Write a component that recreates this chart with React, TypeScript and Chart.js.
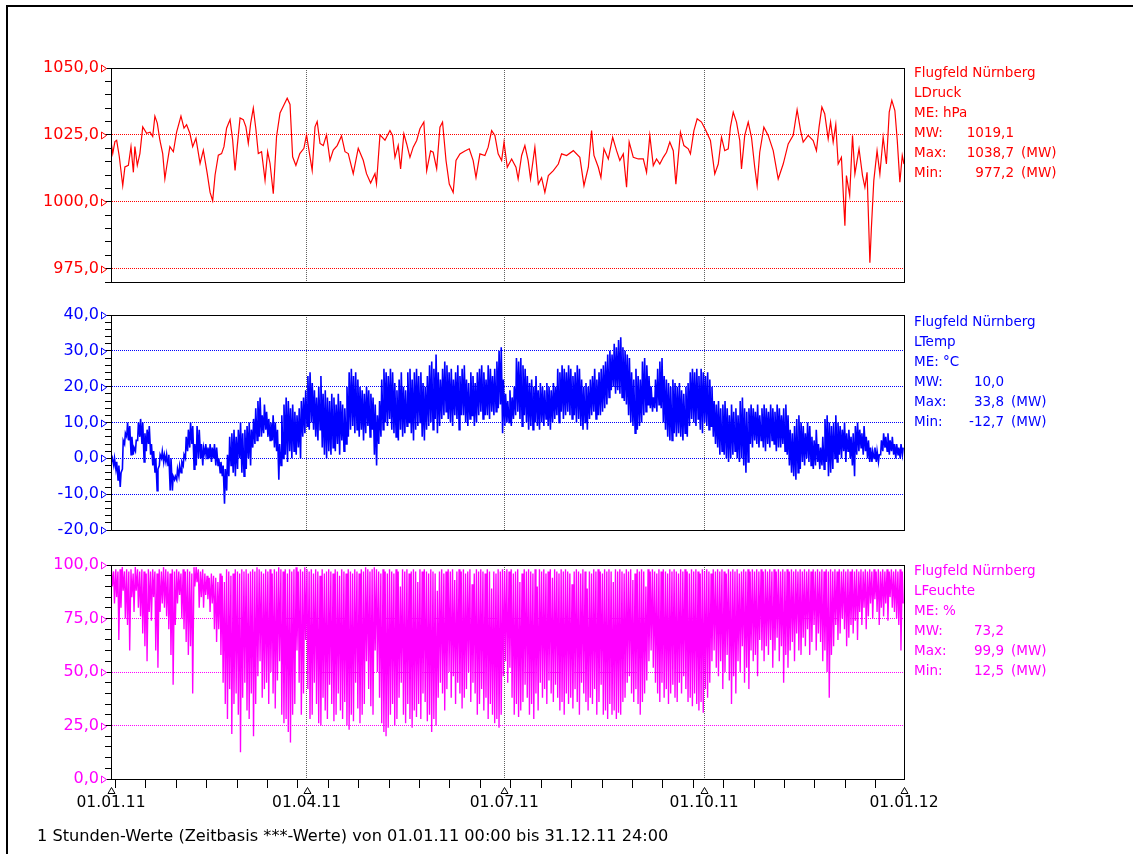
import React, { useEffect, useRef } from "react";
import { Chart, registerables } from "chart.js";

Chart.register(...registerables);
Chart.defaults.font.family = '"DejaVu Sans", sans-serif';

const PAGE_W = 1133;
const PAGE_H = 854;
const PLOT_LEFT = 111;
const PLOT_RIGHT = 904;

// ---- time axis (day of year 2011) ----
const quarterDays = [0, 90, 181, 273, 365];
const quarterLabels = ["01.01.11", "01.04.11", "01.07.11", "01.10.11", "01.01.12"];
const biweeklyDays = [2, 16, 30, 44, 58, 72, 86, 100, 114, 128, 142, 156, 170, 184, 198, 212, 226, 240, 254, 268, 282, 296, 310, 324, 338, 352];

// ---- air pressure (hPa) ----
const pressureDay = [
  0, 0.8, 1.8, 2.6, 3.8, 5.4, 6.4, 8, 9.2, 10.3, 11, 12.1, 13.3, 14.6, 16.4, 18, 19.2, 20.2, 21.3, 22.5,
  23.8, 24.8, 25.6, 27.1, 28.7, 30.2, 32.2, 33.6, 34.8, 36.3, 37.6, 39.1, 41, 42.5, 44.3, 45.6, 46.8, 47.9, 49.4, 50.9,
  52, 53.2, 54.8, 56, 57.1, 58.1, 59.4, 60.9, 62.1, 63.2, 64.3, 65.5, 66.7, 67.8, 69.3, 70.9, 72.1, 73.2, 74.7, 76.2,
  77.8, 79.3, 81.1, 82.4, 83.6, 85.1, 86.9, 88.8, 90, 91.6, 92.6, 93.9, 94.9, 96.2, 97.7, 99.2, 100.8, 102.3, 104.1, 106.1,
  107.7, 109.2, 111.5, 113.8, 116.1, 117.6, 119.5, 121.5, 122.2, 123.8, 126.1, 128.4, 129.6, 130.7, 132.2, 133.3, 134.8, 136.1, 137.6, 139.1,
  140.7, 142.2, 144, 145.3, 147.1, 148.3, 149.9, 151.4, 152.6, 154.2, 155.7, 157.5, 158.8, 160.6, 162.9, 164.9, 166.7, 168, 169.8, 172.1,
  173.6, 175.2, 176.7, 178.2, 179.8, 180.9, 182.4, 184.4, 186.4, 187.4, 189, 190.5, 192, 193.1, 195.1, 196.7, 198.2, 199.7, 201.3, 203.6,
  205.9, 207.4, 209.7, 212.8, 215.8, 217.7, 219.7, 221.2, 222.3, 224.3, 225.5, 226.9, 228.9, 230.9, 232.7, 234.2, 235.8, 237.3, 238.5, 240.4,
  242.7, 245, 246.5, 248, 249.6, 251.1, 252.6, 254.2, 255.7, 257.2, 258.8, 260, 262.1, 263.7, 265.7, 266.7, 268.3, 269.8, 271.8, 273.8,
  275.9, 277.9, 279.5, 281, 282.5, 284.1, 285.1, 286.4, 287.9, 289.4, 290.2, 291.7, 293.3, 294.8, 296.3, 297.4, 298.6, 300.5, 302.5, 304.8,
  307.1, 309.4, 311.7, 314, 315.8, 317.4, 318.6, 320.9, 323.2, 324.7, 325.9, 327.2, 328.5, 330.1, 331.2, 332.4, 333.6, 334.7, 336.2, 337.8,
  338.5, 340, 341.3, 342.4, 344.3, 345.9, 347, 348, 349.3, 350, 351.1, 352.6, 353.9, 355.4, 356.9, 358.2, 359.4, 360.8, 361.9, 363.1,
  364.2, 365,
];
const pressureHpa = [
  1022.5, 1018, 1022.5, 1023, 1017, 1006, 1013, 1013.6, 1020.6, 1011, 1020.6, 1013.6, 1018, 1028, 1025.6, 1026, 1024.4, 1032, 1029.4, 1023,
  1018, 1008.6, 1013, 1020.6, 1018.7, 1026, 1032, 1027.5, 1028.8, 1025.6, 1020.6, 1023.7, 1014.3, 1019.3, 1010.5, 1003.5, 1000.4, 1010, 1017.4, 1018,
  1020.6, 1027.5, 1030.7, 1023, 1011.7, 1020.6, 1031.3, 1030.7, 1028, 1021.8, 1029.4, 1035, 1027, 1018, 1018.7, 1008, 1018.7, 1014.3, 1003, 1024.4,
  1033.2, 1035.7, 1038.7, 1036.4, 1016.8, 1013.6, 1018, 1020, 1025, 1016.8, 1011.7, 1028, 1030, 1021.8, 1021, 1025, 1015.5, 1019.3, 1021, 1024.6,
  1018.7, 1018, 1010.5, 1020, 1015.5, 1010.5, 1007, 1010.5, 1006.7, 1025, 1023, 1026.6, 1024.8, 1016.6, 1021, 1012.3, 1025.4, 1021.6, 1016.6, 1020.4,
  1022.9, 1027.3, 1029.8, 1011.6, 1019, 1018.5, 1012.3, 1027.9, 1029.8, 1015.4, 1006.6, 1003.5, 1015.4, 1017.9, 1019, 1019.8, 1015.4, 1009, 1017.9, 1017.3,
  1020.4, 1026.6, 1024.8, 1017.9, 1015.4, 1022.3, 1012.9, 1016, 1012.9, 1008.5, 1017.3, 1021, 1015.4, 1008.5, 1020.4, 1006.6, 1009, 1003.5, 1009.8, 1011.6,
  1014.1, 1017.9, 1017.3, 1019.1, 1016.6, 1006, 1012.9, 1026.6, 1017.3, 1012.9, 1009, 1019.8, 1016, 1024.1, 1019.1, 1015.4, 1017.9, 1005.4, 1022.3, 1016.6,
  1016, 1016, 1011, 1024.8, 1013.5, 1016, 1014.1, 1016.6, 1018.5, 1022.3, 1019.1, 1006.6, 1026, 1021, 1019.8, 1017.9, 1026.6, 1031, 1029.8, 1026.6,
  1022.9, 1010.4, 1014.1, 1024.1, 1019.1, 1019.8, 1027.9, 1033.5, 1029.8, 1022.9, 1012.3, 1024.8, 1029.8, 1024.1, 1012.9, 1006, 1018.5, 1027.9, 1024.8, 1019.1,
  1008.5, 1014.1, 1021.6, 1024.8, 1034.4, 1026.6, 1022.3, 1024.8, 1022.9, 1019.1, 1027.9, 1035.4, 1032.9, 1023.5, 1029.8, 1022.3, 1028.9, 1014.1, 1016.6, 991,
  1009.8, 1002.3, 1024.8, 1010.4, 1019.8, 1009.8, 1005.4, 1011, 977.2, 990.4, 1007.9, 1019.1, 1010.4, 1024.1, 1014.1, 1033.5, 1037.9, 1034.1, 1022.9, 1007.3,
  1017.3, 1014.1,
];

// ---- air temperature (°C): daily maximum / minimum, day 0..364 ----
const tempHigh = [
  0, 0, -1, -2, -4, 5, 7, 10, 9, 6,
  3, 5, 10, 11, 10, 7, 8, 9, 4, 2,
  0, -3, 1, 2, 1, 1, 1, 0, -5, -5,
  -3, -2, -1, 1, 6, 8, 10, 9, 4, 9,
  8, 4, 3, 4, 3, 4, 3, 4, 3, 0,
  -1, -2, -3, 1, 6, 7, 8, 6, 8, 10,
  7, 8, 9, 10, 8, 11, 14, 16, 17, 12,
  15, 13, 11, 10, 12, 10, 8, 4, 12, 15,
  17, 16, 14, 15, 13, 12, 14, 16, 17, 19,
  23, 24, 21, 19, 17, 20, 23, 18, 19, 17,
  16, 18, 17, 15, 18, 16, 15, 14, 20, 24,
  25, 23, 24, 22, 20, 19, 18, 20, 19, 18,
  17, 15, 12, 16, 22, 25, 24, 23, 25, 24,
  21, 19, 22, 24, 20, 19, 24, 25, 22, 24,
  25, 23, 24, 21, 20, 23, 26, 27, 25, 29,
  24, 22, 25, 27, 26, 24, 25, 22, 24, 26,
  23, 25, 26, 22, 21, 24, 23, 21, 24, 25,
  26, 24, 22, 26, 25, 23, 25, 27, 30, 31,
  22, 18, 16, 19, 17, 20, 28, 27, 28, 26,
  25, 23, 21, 22, 20, 23, 19, 21, 20, 19,
  21, 20, 19, 21, 20, 25, 24, 26, 25, 24,
  26, 25, 23, 24, 26, 25, 22, 20, 21, 20,
  22, 23, 25, 22, 24, 25, 26, 27, 29, 30,
  29, 32, 31, 33, 33.8, 31, 30, 29, 28, 24,
  22, 25, 23, 22, 27, 28, 26, 23, 20, 17,
  22, 25, 27, 28, 23, 22, 21, 20, 22, 21,
  20, 21, 19, 18, 20, 21, 24, 25, 24, 25,
  23, 25, 24, 23, 24, 22, 20, 16, 15, 16,
  14, 15, 16, 14, 12, 15, 13, 14, 12, 16,
  17, 14, 13, 14, 15, 14, 13, 15, 12, 14,
  15, 14, 13, 15, 14, 13, 15, 14, 12, 14,
  15, 12, 8, 7, 9, 11, 12, 10, 9, 7,
  10, 9, 6, 5, 8, 4, 3, 6, 11, 12,
  10, 9, 10, 12, 10, 9, 8, 10, 7, 8,
  6, 7, 9, 10, 8, 7, 9, 6, 5, 3,
  2, 3, 2, 1, 5, 7, 6, 7, 5, 6,
  4, 4, 3, 4, 3,
];
const tempLow = [
  -1, -2, -3, -6, -8, -3, 4, 6, 5, 1,
  1, 2, 5, 6, 4, -1, 2, 4, 1, -2,
  -4, -9, -2, 0, -1, -1, -2, -9, -9, -6,
  -6, -5, -4, -2, 0, 2, 3, 4, -3, -2,
  0, 0, -2, 1, 0, 0, -1, 0, -2, -2,
  -4, -5, -12.7, -9, -5, -2, -4, -5, -3, 0,
  -4, -5, -3, 0, -2, 3, 4, 5, 6, 6,
  7, 8, 6, 5, 5, 3, 2, -6, -2, 0,
  1, -1, 2, 0, 2, 1, 3, 0, 6, 7,
  9, 8, 10, 8, 6, 5, 8, 3, 1, 0,
  2, 1, 3, 2, 4, 1, 5, 2, 4, 6,
  8, 9, 7, 8, 6, 8, 5, 7, 9, 6,
  8, 1, -2, 4, 6, 8, 10, 9, 11, 8,
  7, 6, 5, 8, 6, 7, 9, 10, 7, 5,
  8, 9, 10, 6, 5, 8, 9, 10, 8, 11,
  7, 9, 11, 12, 13, 11, 10, 9, 12, 11,
  8, 12, 12, 10, 9, 11, 12, 9, 10, 12,
  13, 11, 12, 12, 11, 13, 12, 13, 14, 15,
  7, 9, 10, 10, 9, 11, 12, 13, 11, 9,
  12, 10, 8, 9, 8, 10, 9, 8, 10, 9,
  11, 9, 8, 10, 11, 12, 10, 13, 11, 12,
  13, 12, 11, 12, 10, 11, 9, 8, 10, 8,
  11, 12, 13, 11, 12, 12, 13, 14, 15, 17,
  19, 20, 18, 19, 18, 17, 16, 15, 12, 10,
  9, 7, 8, 9, 10, 12, 13, 15, 14, 13,
  14, 13, 15, 14, 10, 8, 6, 5, 5, 7,
  6, 7, 6, 5, 7, 6, 9, 11, 10, 9,
  11, 8, 7, 10, 9, 8, 9, 6, 4, 3,
  1, 2, 1, 0, -1, 0, 1, 2, 0, -1,
  0, -2, -4, -1, 4, 3, 5, 4, 3, 5,
  3, 2, 4, 3, 5, 4, 2, 3, 3, 4,
  2, 1, -2, -4, -5, -6, -4, -3, -1, -2,
  0, -1, -2, -3, -2, -1, -3, -2, -3, -1,
  -5, -4, -3, 0, -1, 1, 0, 2, -1, 2,
  0, -2, -5, 1, 2, 3, 1, 2, 0, -1,
  -1, 0, -1, -1, 1, 2, 3, 2, 1, 2,
  1, 0, 1, 0, 1,
];

// ---- relative humidity (%): daily maximum / minimum, day 0..364 ----
const humHigh = [
  98, 97, 98, 97, 98, 99, 97, 98, 97, 98,
  96, 99, 98, 97, 98, 97, 96, 98, 97, 98,
  97, 96, 98, 97, 99, 98, 97, 96, 98, 97,
  98, 97, 96, 98, 97, 98, 97, 96, 99, 99,
  98, 97, 98, 96, 95, 94, 96, 95, 94, 92,
  96, 95, 92, 98, 97, 95, 96, 98, 97, 96,
  98, 97, 98, 96, 97, 98, 97, 99, 98, 97,
  96, 98, 97, 98, 96, 98, 97, 99, 98, 97,
  98, 96, 98, 97, 98, 99, 97, 98, 97, 99,
  98, 97, 98, 96, 98, 97, 95, 98, 96, 97,
  98, 97, 96, 98, 97, 95, 98, 97, 96, 98,
  97, 96, 98, 97, 96, 98, 97, 99, 98, 97,
  98, 99, 98, 97, 96, 98, 97, 96, 98, 97,
  96, 98, 97, 90, 98, 97, 98, 96, 97, 98,
  97, 92, 98, 97, 98, 97, 96, 98, 97, 96,
  88, 97, 98, 96, 97, 98, 97, 98, 93, 97,
  98, 97, 98, 96, 97, 98, 91, 96, 98, 97,
  98, 97, 96, 98, 97, 89, 97, 96, 98, 97,
  98, 97, 98, 97, 98, 96, 97, 98, 92, 96,
  98, 97, 98, 97, 96, 98, 90, 98, 97, 98,
  96, 97, 98, 94, 98, 97, 96, 98, 97, 98,
  97, 96, 91, 97, 98, 97, 96, 98, 97, 89,
  97, 96, 98, 97, 98, 97, 96, 98, 97, 98,
  97, 92, 98, 97, 98, 97, 96, 98, 97, 98,
  93, 96, 98, 97, 98, 97, 90, 98, 97, 98,
  97, 96, 98, 97, 98, 97, 96, 98, 97, 98,
  97, 96, 98, 97, 98, 97, 96, 98, 97, 98,
  97, 96, 98, 97, 98, 97, 96, 98, 97, 98,
  97, 98, 97, 96, 98, 97, 98, 97, 98, 96,
  97, 98, 97, 98, 97, 98, 97, 98, 97, 98,
  97, 98, 97, 98, 97, 98, 97, 98, 97, 98,
  97, 98, 97, 98, 97, 98, 97, 98, 97, 98,
  97, 98, 97, 98, 97, 98, 97, 98, 97, 98,
  97, 98, 97, 98, 97, 98, 97, 98, 97, 98,
  97, 98, 97, 98, 97, 98, 97, 98, 97, 98,
  97, 98, 97, 98, 97, 98, 97, 98, 97, 98,
  97, 98, 97, 98, 97,
];
const humLow = [
  90, 82, 85, 65, 80, 88, 75, 72, 60, 85,
  78, 88, 80, 76, 68, 62, 55, 78, 74, 85,
  60, 52, 78, 82, 80, 76, 70, 58, 44, 72,
  82, 86, 75, 70, 64, 58, 62, 40, 90, 92,
  80, 85, 80, 86, 84, 78, 82, 70, 64, 70,
  58, 45, 35, 28, 42, 21, 35, 40, 30, 12.5,
  38, 45, 32, 28, 40, 20, 35, 48, 55, 38,
  42, 45, 35, 50, 40, 33, 46, 55, 30, 26,
  28, 22, 17, 30, 35, 60, 45, 30, 40, 65,
  42, 28, 30, 45, 35, 26, 25, 38, 32, 28,
  44, 35, 27, 30, 40, 32, 28, 36, 25, 23,
  30, 27, 45, 33, 26, 30, 35, 55, 42, 34,
  30, 60, 50, 38, 26, 22, 20, 24, 30, 35,
  25, 28, 38, 45, 30, 26, 35, 28, 24, 32,
  29, 35, 28, 40, 36, 27, 30, 22, 28, 25,
  38, 45, 40, 32, 42, 50, 38, 48, 35, 45,
  40, 33, 38, 42, 50, 36, 45, 40, 30, 35,
  42, 32, 38, 28, 35, 30, 26, 28, 24, 30,
  48, 55, 45, 52, 38, 30, 35, 29, 32, 36,
  44, 38, 30, 35, 28, 40, 32, 45, 38, 42,
  35, 46, 40, 36, 44, 38, 32, 36, 30, 40,
  35, 38, 33, 42, 36, 30, 45, 40, 36, 32,
  38, 35, 42, 30, 36, 44, 30, 32, 28, 35,
  30, 32, 28, 31, 30, 36, 38, 45, 48, 40,
  36, 42, 35, 30, 36, 40, 46, 55, 60, 52,
  45, 40, 36, 45, 38, 42, 35, 40, 44, 38,
  36, 45, 40, 48, 42, 36, 38, 34, 40, 35,
  32, 36, 31, 42, 38, 45, 55, 60, 52, 48,
  55, 42, 50, 58, 46, 35, 48, 40, 55, 50,
  62, 45, 52, 42, 60, 55, 58, 48, 65, 60,
  55, 62, 58, 65, 52, 60, 66, 55, 62, 45,
  58, 52, 60, 64, 55, 68, 60, 58, 66, 62,
  70, 58, 64, 72, 60, 68, 64, 55, 60, 50,
  38, 58, 62, 72, 65, 68, 75, 70, 62, 66,
  72, 68, 74, 65, 78, 72, 80, 70, 76, 82,
  75, 84, 78, 72, 80, 76, 82, 74, 85, 80,
  78, 75, 72, 60, 82,
];

// ---- legend texts ----
const legendPressure = ["Flugfeld Nürnberg", "LDruck", "ME: hPa"];
const statsPressure = ["1019,1", "1038,7", "977,2"];
const legendTemp = ["Flugfeld Nürnberg", "LTemp", "ME: °C"];
const statsTemp = ["10,0", "33,8", "-12,7"];
const legendHum = ["Flugfeld Nürnberg", "LFeuchte", "ME: %"];
const statsHum = ["73,2", "99,9", "12,5"];
const footerText = "1 Stunden-Werte (Zeitbasis ***-Werte) von 01.01.11 00:00 bis 31.12.11 24:00";

const pressurePoints = pressureDay.map((d, i) => ({ x: d, y: pressureHpa[i] }));
const tempPoints = tempLow.flatMap((lo, d) => [
  { x: d + 0.25, y: lo },
  { x: d + 0.62, y: tempHigh[d] },
]);
const humPoints = humHigh.flatMap((hi, d) => [
  { x: d + 0.2, y: hi },
  { x: d + 0.6, y: humLow[d] },
]);

type Panel = {
  top: number;
  bottom: number;
  min: number;
  max: number;
  step: number;
  major: number;
  color: string;
  grid: string;
  lineWidth: number;
  points: { x: number; y: number }[];
  bottomAxis: boolean;
};

const panels: Panel[] = [
  { top: 68, bottom: 282, min: 970, max: 1050, step: 5, major: 25, color: "#ff0000", grid: "#ff0000", lineWidth: 1.2, points: pressurePoints, bottomAxis: false },
  { top: 315, bottom: 530, min: -20, max: 40, step: 2, major: 10, color: "#0000ff", grid: "#0000ff", lineWidth: 1.6, points: tempPoints, bottomAxis: false },
  { top: 565, bottom: 779, min: 0, max: 100, step: 5, major: 25, color: "#ff00ff", grid: "#ff00ff", lineWidth: 1.35, points: humPoints, bottomAxis: true },
];

const fmt = (v: number) => v.toFixed(1).replace(".", ",");
const isMajorOf = (major: number) => (v: number) => Math.abs(Math.round(v / major) * major - v) < 1e-6;

function buildChart(canvas: HTMLCanvasElement, p: Panel) {
  const isMajor = isMajorOf(p.major);
  const yTicks: number[] = [];
  for (let v = p.min; v <= p.max + 1e-9; v += p.step) yTicks.push(Math.round(v * 10) / 10);
  const xTicks = p.bottomAxis ? [...quarterDays, ...biweeklyDays].sort((a, b) => a - b) : quarterDays.slice();
  const xHeight = p.bottomAxis ? PAGE_H - p.bottom : 0;

  const boxPlugin = {
    id: "panelBox",
    afterDraw(chart: any) {
      const { ctx, chartArea: a } = chart;
      const ys = chart.scales.y;
      const xs = chart.scales.x;
      ctx.save();
      ctx.setLineDash([]);
      ctx.lineWidth = 1;
      ctx.strokeStyle = "#000";
      ctx.strokeRect(Math.round(a.left) + 0.5, Math.round(a.top) + 0.5, Math.round(a.right - a.left), Math.round(a.bottom - a.top));
      // value markers on the y axis
      ctx.strokeStyle = p.color;
      ctx.fillStyle = "#fff";
      for (const v of yTicks) {
        if (!isMajor(v)) continue;
        const y = Math.round(ys.getPixelForValue(v)) + 0.5;
        const x0 = Math.round(a.left) - 10 + 0.5;
        const x1 = Math.round(a.left) - 4.5;
        ctx.beginPath();
        ctx.moveTo(x0, y - 3.5);
        ctx.lineTo(x1, y);
        ctx.lineTo(x0, y + 3.5);
        ctx.closePath();
        ctx.fill();
        ctx.stroke();
      }
      if (p.bottomAxis) {
        ctx.strokeStyle = "#000";
        const b = Math.round(a.bottom);
        for (const d of quarterDays) {
          const x = Math.round(xs.getPixelForValue(d)) + 0.5;
          ctx.beginPath();
          ctx.moveTo(x, b + 8.5);
          ctx.lineTo(x + 3.5, b + 14.5);
          ctx.lineTo(x - 3.5, b + 14.5);
          ctx.closePath();
          ctx.stroke();
        }
      }
      ctx.restore();
    },
  };

  return new Chart(canvas, {
    type: "line",
    data: {
      datasets: [
        {
          data: p.points,
          borderColor: p.color,
          borderWidth: p.lineWidth,
          pointRadius: 0,
          tension: 0,
          fill: false,
        },
      ],
    },
    options: {
      responsive: false,
      animation: false,
      events: [],
      layout: {
        padding: { left: 0, top: p.top, right: PAGE_W - PLOT_RIGHT, bottom: p.bottomAxis ? 0 : PAGE_H - p.bottom },
      },
      plugins: { legend: { display: false }, tooltip: { enabled: false }, title: { display: false } },
      scales: {
        x: {
          type: "linear",
          min: 0,
          max: 365,
          afterBuildTicks: (s: any) => {
            s.ticks = xTicks.map((v) => ({ value: v }));
          },
          afterFit: (s: any) => {
            s.height = xHeight;
          },
          grid: {
            color: (c: any) => {
              const v = c.tick ? c.tick.value : -1;
              return v === 90 || v === 181 || v === 273 ? "#606060" : "rgba(0,0,0,0)";
            },
            lineWidth: 1,
            drawTicks: p.bottomAxis,
            tickLength: 9,
            tickColor: (c: any) => (c.tick && quarterDays.includes(c.tick.value) ? "rgba(0,0,0,0)" : "#000"),
          },
          border: { display: true, color: "#000", width: 1, dash: [1, 1] },
          ticks: {
            display: p.bottomAxis,
            autoSkip: false,
            maxRotation: 0,
            minRotation: 0,
            padding: 6,
            color: "#000",
            font: { size: 15.5 },
            callback: (v: any) => {
              const i = quarterDays.indexOf(Number(v));
              return i >= 0 ? quarterLabels[i] : "";
            },
          },
        },
        y: {
          type: "linear",
          min: p.min,
          max: p.max,
          afterBuildTicks: (s: any) => {
            s.ticks = yTicks.map((v) => ({ value: v }));
          },
          afterFit: (s: any) => {
            s.width = PLOT_LEFT;
          },
          grid: {
            color: (c: any) => (c.tick && isMajor(c.tick.value) ? p.grid : "rgba(0,0,0,0)"),
            lineWidth: 1,
            drawTicks: true,
            tickLength: 6,
            tickColor: "#000",
          },
          border: { display: true, color: "#000", width: 1, dash: [1, 1] },
          ticks: {
            autoSkip: false,
            padding: 6,
            color: p.color,
            font: { size: 16 },
            callback: (v: any) => (isMajor(Number(v)) ? fmt(Number(v)) : ""),
          },
        },
      },
    },
    plugins: [boxPlugin],
  } as any);
}

function Legend({ top, color, lines, stats, valueRight }: { top: number; color: string; lines: string[]; stats: string[]; valueRight: number }) {
  const base: React.CSSProperties = {
    position: "absolute",
    fontSize: 13.5,
    lineHeight: "20px",
    color,
    whiteSpace: "pre",
  };
  const labels = ["MW:", "Max:", "Min:"];
  return (
    <>
      {lines.map((t, i) => (
        <div key={"l" + i} style={{ ...base, left: 914, top: top - 10 + i * 20 }}>
          {t}
        </div>
      ))}
      {labels.map((lab, i) => (
        <React.Fragment key={"s" + i}>
          <div style={{ ...base, left: 914, top: top - 10 + (i + 3) * 20 }}>{lab}</div>
          <div style={{ ...base, left: 940, width: valueRight - 940, textAlign: "right", top: top - 10 + (i + 3) * 20 }}>
            {stats[i]}
          </div>
          {i > 0 && <div style={{ ...base, left: valueRight + 7, top: top - 10 + (i + 3) * 20 }}>(MW)</div>}
        </React.Fragment>
      ))}
    </>
  );
}

export default function App() {
  const c1 = useRef<HTMLCanvasElement>(null);
  const c2 = useRef<HTMLCanvasElement>(null);
  const c3 = useRef<HTMLCanvasElement>(null);

  useEffect(() => {
    const refs = [c1, c2, c3];
    const charts = refs.map((r, i) => buildChart(r.current as HTMLCanvasElement, panels[i]));
    return () => charts.forEach((c) => c.destroy());
  }, []);

  const canvasStyle: React.CSSProperties = { position: "absolute", left: 0, top: 0, width: PAGE_W, height: PAGE_H };

  return (
    <div
      style={{
        position: "absolute",
        left: 0,
        top: 0,
        width: PAGE_W,
        height: PAGE_H,
        overflow: "hidden",
        background: "#fff",
        fontFamily: '"DejaVu Sans", sans-serif',
      }}
    >
      <div
        style={{
          position: "absolute",
          left: 6,
          top: 5,
          width: PAGE_W,
          height: PAGE_H,
          borderLeft: "2px solid #000",
          borderTop: "2px solid #000",
        }}
      />
      <canvas ref={c1} width={PAGE_W} height={PAGE_H} style={canvasStyle} />
      <canvas ref={c2} width={PAGE_W} height={PAGE_H} style={canvasStyle} />
      <canvas ref={c3} width={PAGE_W} height={PAGE_H} style={canvasStyle} />
      <Legend top={72} color="#ff0000" lines={legendPressure} stats={statsPressure} valueRight={1014} />
      <Legend top={321} color="#0000ff" lines={legendTemp} stats={statsTemp} valueRight={1004} />
      <Legend top={570} color="#ff00ff" lines={legendHum} stats={statsHum} valueRight={1004} />
      <div style={{ position: "absolute", left: 37, top: 827, fontSize: 16.2, lineHeight: "18px", color: "#000", whiteSpace: "pre" }}>
        {footerText}
      </div>
    </div>
  );
}
